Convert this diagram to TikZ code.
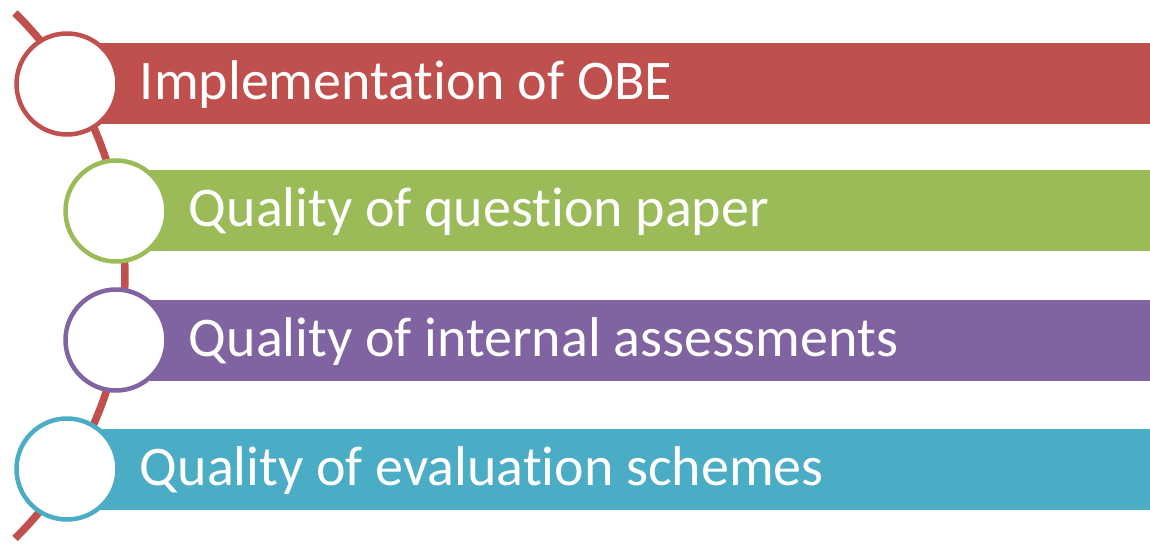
\documentclass[tikz,border=0pt]{standalone}
\usepackage{fontspec}
\setmainfont{Carlito}[Ligatures=NoCommon]
\usetikzlibrary{positioning}
\definecolor{obered}{HTML}{C0504D}
\definecolor{obegreen}{HTML}{9BBB59}
\definecolor{obepurple}{HTML}{8064A2}
\definecolor{obeblue}{HTML}{4BACC6}

\begin{document}
\begin{tikzpicture}[x=1pt, y=1pt,
    bar/.style={rectangle, inner sep=0pt, minimum height=81pt, anchor=west},
    ring/.style={circle, draw=#1, fill=white, line width=4.5pt, minimum size=101pt, inner sep=0pt},
    lbl/.style={text=white, inner sep=0pt, text height=36pt, text depth=0pt,
                font=\fontsize{56}{60}\selectfont}]
    \useasboundingbox (0,0) rectangle (1150,544);

    % centres of the rings
    \coordinate (p1) at (67,460);
    \coordinate (p2) at (116,333);
    \coordinate (p3) at (116,204);
    \coordinate (p4) at (67,75);

    % the line behind the rings
    \coordinate (top) at (15,531);
    \draw[obered, line width=7.5pt] (top) arc[start angle=45.4, end angle=-45.4, radius=369];

    % bars
    \node[bar, fill=obered, minimum width=1083pt] (b1) at (p1) {};
    \node[bar, fill=obegreen, minimum width=1034pt] (b2) at (p2) {};
    \node[bar, fill=obepurple, minimum width=1034pt] (b3) at (p3) {};
    \node[bar, fill=obeblue, minimum width=1083pt] (b4) at (p4) {};

    % rings
    \node[ring=obered] (c1) at (p1) {};
    \node[ring=obegreen] (c2) at (p2) {};
    \node[ring=obepurple] (c3) at (p3) {};
    \node[ring=obeblue] (c4) at (p4) {};

    % labels
    \node[lbl, right=20pt of c1, yshift=2pt] (t1) {Implementation of OBE};
    \node[lbl, right=20pt of c2, yshift=2pt] (t2) {Quality of question paper};
    \node[lbl, right=20pt of c3, yshift=2pt] (t3) {Quality of internal assessments};
    \node[lbl, right=20pt of c4, yshift=2pt] (t4) {Quality of evaluation schemes};
\end{tikzpicture}
\end{document}
